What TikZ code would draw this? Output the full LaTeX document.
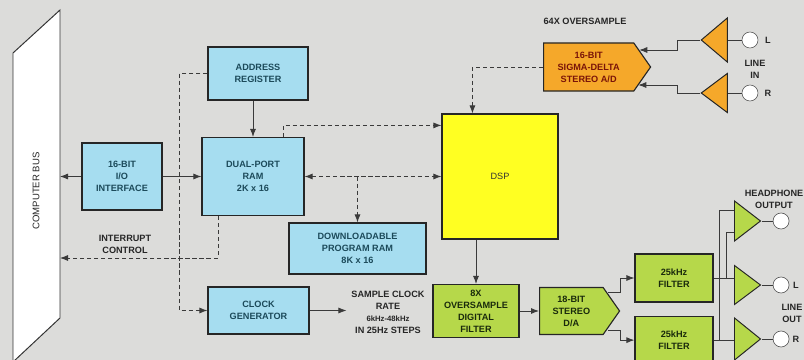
\documentclass[tikz,border=0pt]{standalone}
\usepackage{fontspec}
\setmainfont{Liberation Sans}
\usepackage{xcolor}
\usetikzlibrary{shapes.geometric,shapes.symbols,arrows.meta,positioning}

\definecolor{paper}{HTML}{DCDCDA}
\definecolor{hostblue}{HTML}{A6DDF0}
\definecolor{dspyellow}{HTML}{FFFF22}
\definecolor{outgreen}{HTML}{B6D84A}
\definecolor{inorange}{HTML}{F5A82A}
\definecolor{inkblue}{HTML}{1C4A5A}
\definecolor{inkgreen}{HTML}{1A2A0C}
\definecolor{inkred}{HTML}{7A1408}
\definecolor{wirec}{HTML}{3A3A3A}

\newcommand{\lbl}{\fontsize{6.5}{8.5}\selectfont\bfseries}

\begin{document}
\begin{tikzpicture}[x=0.025cm, y=-0.025cm,
  node distance=0.3cm,
  box/.style={rectangle, draw=black!85, line width=0.8pt, fill=hostblue, text=inkblue, align=center, font=\lbl, inner sep=1pt},
  gbox/.style={box, fill=outgreen, text=inkgreen},
  conv/.style={signal, signal to=east, signal pointer angle=110, draw=black!85, line width=0.8pt, align=center, font=\lbl, inner sep=1pt},
  amp/.style={isosceles triangle, isosceles triangle stretches, draw=black!85, line width=0.7pt, inner sep=0pt, minimum height=0.65cm, minimum width=1cm},
  jack/.style={circle, draw=black!70, fill=white, minimum size=0.4cm, inner sep=0pt},
  note/.style={font=\lbl, text=black!85, align=center},
  wire/.style={draw=wirec, line width=0.6pt},
  arr/.style={wire, -{Latex[length=2mm,width=1.5mm]}},
  darr/.style={arr, densely dashed},
  dblarr/.style={wire, densely dashed, {Latex[length=2mm,width=1.5mm]}-{Latex[length=2mm,width=1.5mm]}}
]
\useasboundingbox (0,0) rectangle (804,360);
\fill[paper] (0,0) rectangle (804,360);

% host side
\filldraw[fill=white, draw=black!80, line width=0.7pt] (13,53) -- (60,10) -- (60,318) -- (13,362) -- cycle;
\node[note, rotate=90, font=\fontsize{6.8}{8}\selectfont] (bus) at (36,191) {COMPUTER BUS};
\coordinate (busio) at (60,176.5);
\coordinate (busirq) at (60,258);

\node[box, minimum width=2cm, minimum height=1.675cm] (io) at (122,176.5) {16-BIT\\I/O\\INTERFACE};
\node[box, minimum width=2.5cm, minimum height=1.325cm] (addr) at (258,73.5) {ADDRESS\\REGISTER};
\node[box, minimum width=2.55cm, minimum height=1.95cm] (ram) at (253,176.5) {DUAL-PORT\\RAM\\2K x 16};
\node[box, minimum width=3.425cm, minimum height=1.275cm] (dlram) at (357.5,248.5) {DOWNLOADABLE\\PROGRAM RAM\\8K x 16};
\node[box, minimum width=2.525cm, minimum height=1.175cm] (clk) at (258.5,310.5) {CLOCK\\GENERATOR};
\node[note] (rate) at (388,312) {SAMPLE CLOCK\\RATE\\{\fontsize{5.5}{6}\selectfont 6kHz-48kHz}\\IN 25Hz STEPS};
\node[note] (irqlbl) at (125,244) {INTERRUPT\\CONTROL};

\node[box, fill=dspyellow, text=black!80, font=\fontsize{6.5}{7}\selectfont, minimum width=2.9cm, minimum height=3.125cm] (dsp) at (500,176.5) {DSP};

% line in
\node[note] (ovlbl) at (585,21) {64X OVERSAMPLE};
\node[conv, fill=inorange, text=inkred, minimum width=2.675cm, minimum height=1.2cm, anchor=west] (adc) at (543,67) {16-BIT\\SIGMA-DELTA\\STEREO A/D};
\node[amp, fill=inorange, shape border rotate=180, minimum width=1.1cm, anchor=apex] (ainL) at (700,40) {};
\node[amp, fill=inorange, shape border rotate=180, minimum width=0.975cm, anchor=apex] (ainR) at (700,93) {};
\node[jack] (jinL) at (750,40) {};
\node[jack] (jinR) at (750,93) {};
\node[note] at (768,40) {L};
\node[note] at (768,93) {R};
\node[note] (linein) at (755,69) {LINE\\IN};

% output side
\node[gbox, minimum width=2.15cm, minimum height=1.325cm] (ovs) at (476,311) {8X\\OVERSAMPLE\\DIGITAL\\FILTER};
\node[conv, fill=outgreen, text=inkgreen, minimum width=2cm, minimum height=1.175cm, anchor=west] (dac) at (539,311) {18-BIT\\STEREO\\D/A};
\node[gbox, minimum width=1.95cm, minimum height=1.2cm] (flt1) at (674,278) {25kHz\\FILTER};
\node[gbox, minimum width=1.95cm, minimum height=1.2cm, below=0.325cm of flt1] (flt2) {25kHz\\FILTER};
\node[amp, fill=outgreen, anchor=lower side] (ahp) at (734,221) {};
\node[amp, fill=outgreen, minimum width=0.975cm, anchor=lower side] (aL) at (734,285) {};
\node[amp, fill=outgreen, minimum width=1.05cm, anchor=lower side] (aR) at (734,339) {};
\node[jack, right=0.275cm of ahp.apex] (jhp) {};
\node[jack, right=0.275cm of aL.apex] (jL) {};
\node[jack, right=0.275cm of aR.apex] (jR) {};
\node[note] (hplbl) at (774,199) {HEADPHONE\\OUTPUT};
\node[note] (lineout) at (792,313) {LINE\\OUT};
\node[note] at (796,285) {L};
\node[note] at (796,339) {R};

\draw[arr] (io.west) -- (busio);
\draw[arr] (io.east) -- (ram.west);
\draw[arr] (ram.north |- addr.south) -- (ram.north);
\draw[darr] ([xshift=0.75cm]ram.north) |- ([yshift=-0.3cm]dsp.north west);
\draw[dblarr] (ram.east) -- (dsp.west);
\draw[darr] (dlram.north |- ram.east) -- (dlram.north);
\draw[darr] ([xshift=-0.875cm]ram.south) |- (busirq);
\draw[darr] (addr.west) -- ++(-28,0) |- (clk.west);
\draw[arr] (clk.east) -- (clk.east -| rate.west);

\draw[wire] (jinL.west) -- (ainL.lower side);
\draw[wire] (jinR.west) -- (ainR.lower side);
\draw[arr] (ainL.apex) -- ++(-23,0) |- ([xshift=-0.3cm,yshift=0.425cm]adc.east);
\draw[arr] (ainR.apex) -- ++(-23,0) |- ([xshift=-0.325cm,yshift=-0.45cm]adc.east);
\draw[darr] (adc.west) -| ([xshift=0.775cm]dsp.north west);

\draw[arr] (ovs.north |- dsp.south) -- (ovs.north);
\draw[arr] (ovs.east) -- (dac.west);
\draw[arr] ([xshift=-0.3cm,yshift=0.475cm]dac.east) -- ++(12,0) |- (flt1.west);
\draw[arr] ([xshift=-0.3cm,yshift=-0.475cm]dac.east) -- ++(12,0) |- (flt2.west);
\draw[wire] (flt1.east) -- (flt1.east -| aL.lower side);
\draw[wire] (flt2.east) -- (flt2.east -| aR.lower side);
\draw[wire] ([xshift=0.325cm]flt1.east) |- ([yshift=-0.275cm]ahp.lower side);
\draw[wire] ([xshift=0.15cm]flt2.east) |- ([yshift=0.275cm]ahp.lower side);
\draw[wire] (ahp.apex) -- (jhp);
\draw[wire] (aL.apex) -- (jL);
\draw[wire] (aR.apex) -- (jR);
\end{tikzpicture}
\end{document}
